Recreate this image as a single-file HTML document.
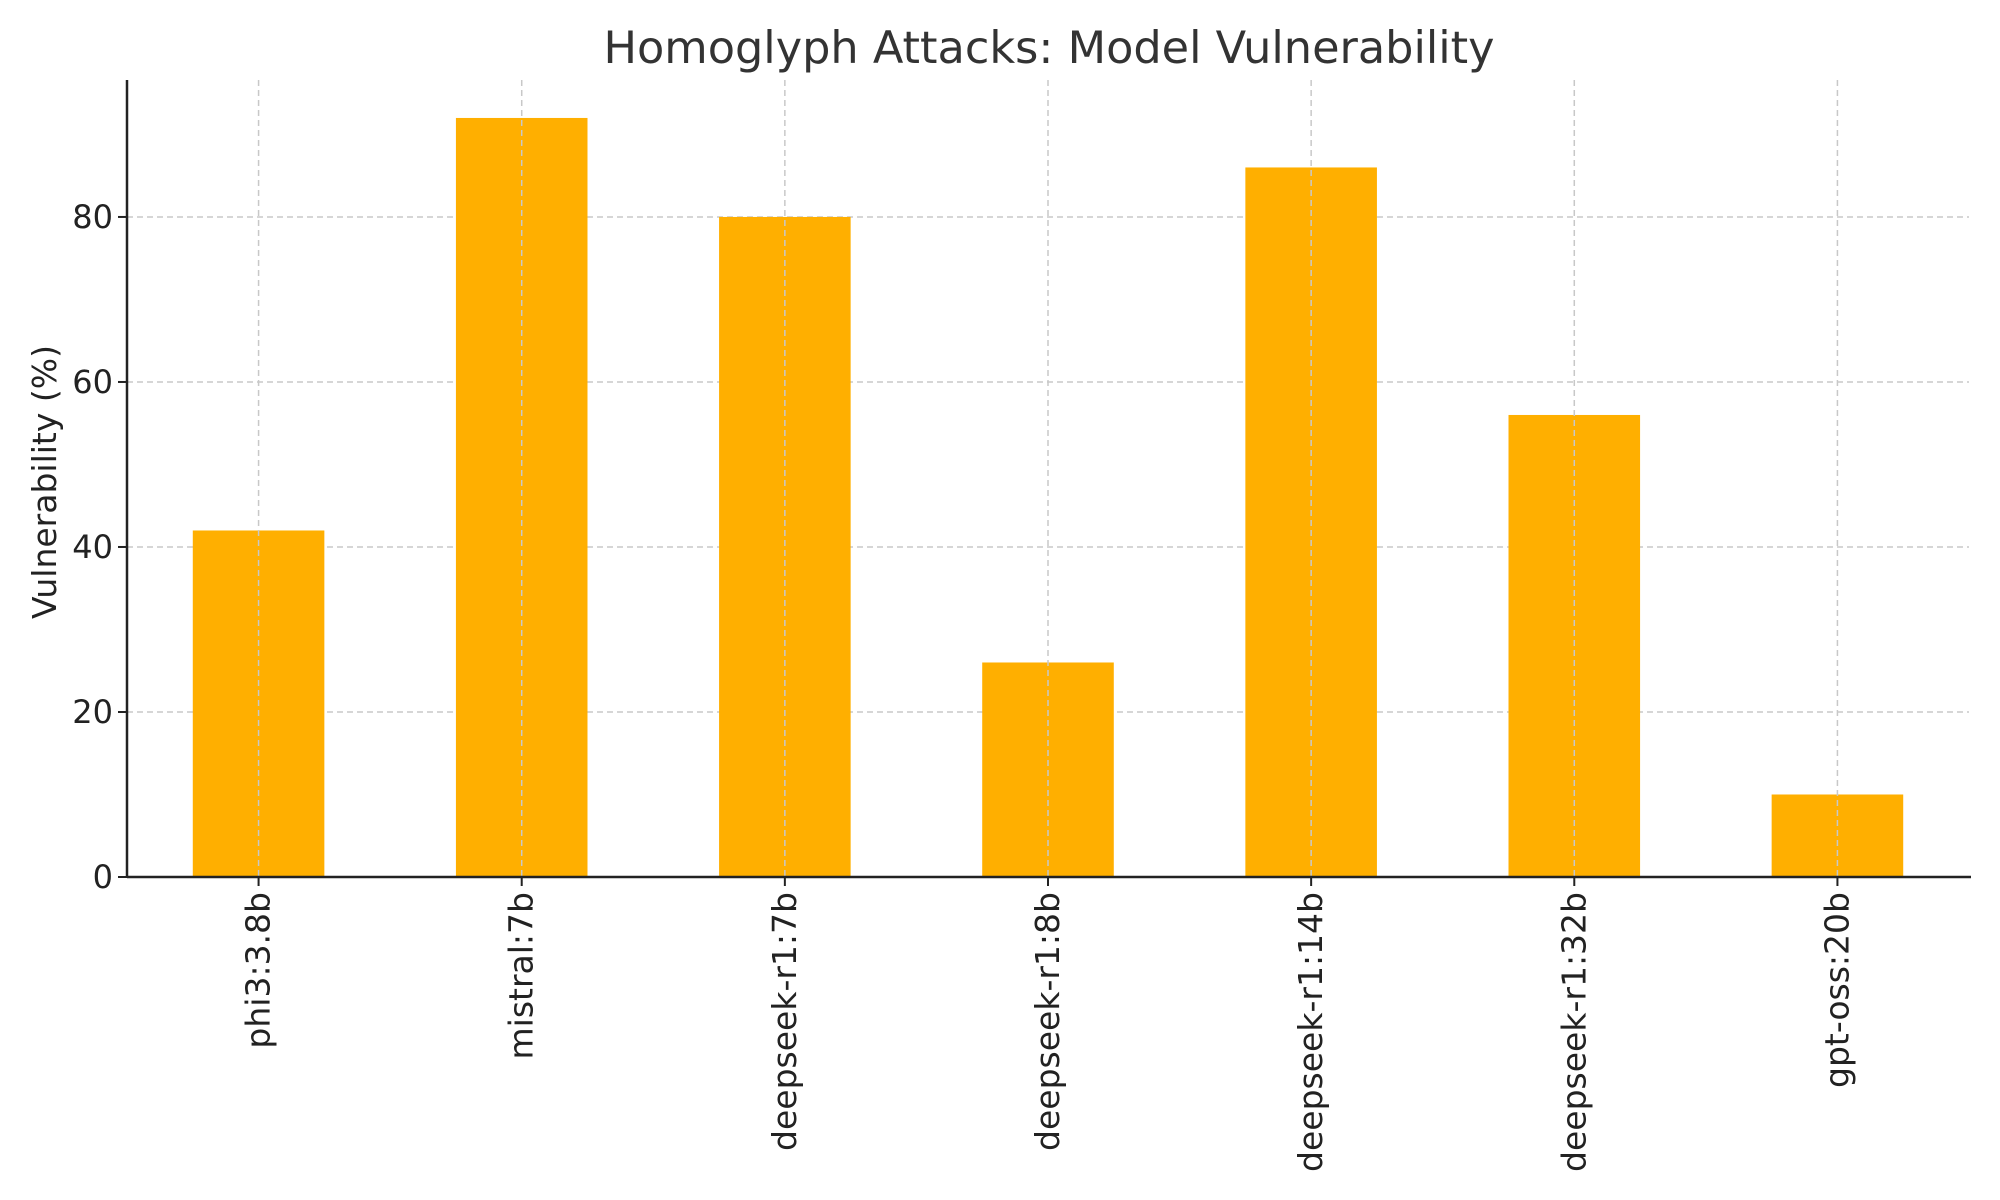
<!DOCTYPE html>
<html><head><meta charset="utf-8"><style>
html,body{margin:0;padding:0;background:#fff;}
svg{display:block;font-family:"DejaVu Sans","Liberation Sans",sans-serif;}
</style></head><body>
<svg id="chart" width="2000" height="1200" viewBox="0 0 2000 1200">
<text x="1049" y="63" font-size="44.6" fill="#333" text-anchor="middle">Homoglyph Attacks: Model Vulnerability</text>
<text transform="translate(56,482) rotate(-90)" font-size="33" fill="#222" text-anchor="middle">Vulnerability (%)</text>
<g id="grid"></g><g id="bars"></g><g id="axes"></g>
</svg>
<script>
const categories = ["phi3:3.8b","mistral:7b","deepseek-r1:7b","deepseek-r1:8b","deepseek-r1:14b","deepseek-r1:32b","gpt-oss:20b"];
const values = [42,92,80,26,86,56,10];
const yTicks = [0,20,40,60,80];

const NS="http://www.w3.org/2000/svg";
const L=127,R=1969,T=80,B=877,yMax=96.6;
const step=(R-L)/categories.length;
const x=i=>L+step*(i+0.5);
const y=v=>B-(v/yMax)*(B-T);
function mk(tag,attrs,parent){const e=document.createElementNS(NS,tag);for(const k in attrs)e.setAttribute(k,attrs[k]);parent.appendChild(e);return e;}
const grid=document.getElementById('grid'),bars=document.getElementById('bars'),axes=document.getElementById('axes');
yTicks.forEach(t=>{
  if(t>0){const g=mk('line',{x1:L,x2:R,y1:y(t),y2:y(t),stroke:'#c8c8c8','stroke-width':1.5,'stroke-dasharray':'6,4'},grid);
  
  }
  const tk=mk('line',{x1:L-9,x2:L,y1:y(t),y2:y(t),stroke:'#222','stroke-width':2},axes);
  
  
  const lb=mk('text',{x:L-14,y:y(t)+11,'font-size':32,fill:'#222','text-anchor':'end'},axes);
  lb.textContent=t;
  
  
});
categories.forEach((c,i)=>{
  const bw=step*0.5;
  const r=mk('rect',{x:x(i)-bw/2,y:y(values[i]),width:bw,height:B-y(values[i]),fill:'#FFAF00'},bars);
  
  
  const g=mk('line',{x1:x(i),x2:x(i),y1:T,y2:B,stroke:'#c8c8c8','stroke-width':1.5,'stroke-dasharray':'6,4'},bars);
  
  
  const tk=mk('line',{x1:x(i),x2:x(i),y1:B,y2:B+9,stroke:'#222','stroke-width':2},axes);
  
  
  const lb=mk('text',{transform:`translate(${x(i)+11},${B+15}) rotate(-90)`,'font-size':33,fill:'#222','text-anchor':'end'},axes);
  lb.textContent=c;
  
  
});
const ya=mk('line',{x1:L,x2:L,y1:T,y2:B+1,stroke:'#222','stroke-width':2.5},axes);


const xa=mk('line',{x1:L,x2:R+2,y1:B,y2:B,stroke:'#222','stroke-width':2.5},axes);


</script>
</body></html>
